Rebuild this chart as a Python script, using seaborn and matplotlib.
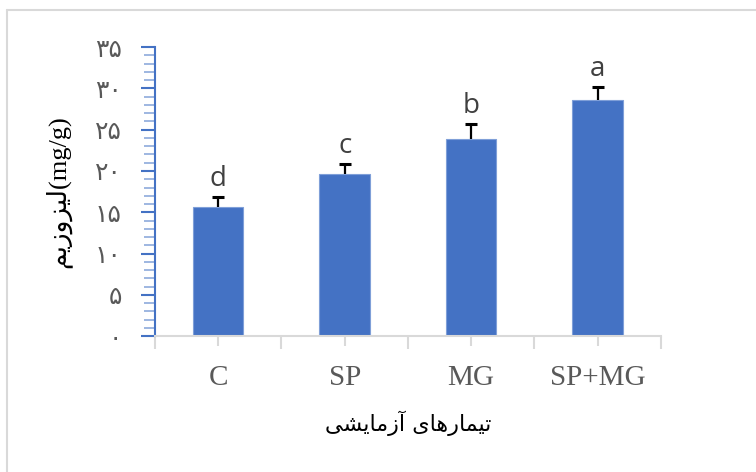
import matplotlib
matplotlib.use("Agg")
import matplotlib.pyplot as plt
import seaborn as sns
import numpy as np
from matplotlib.lines import Line2D
from matplotlib.ticker import MultipleLocator, FixedLocator

# data
treatments = ["C", "SP", "MG", "SP+MG"]
lysozyme = [15.6, 19.6, 23.9, 28.6]
errors = [1.2, 1.2, 1.8, 1.6]
letters = ["d", "c", "b", "a"]
ytick_vals = [0, 5, 10, 15, 20, 25, 30, 35]
ytick_labels = ["۰", "۵", "۱۰", "۱۵", "۲۰", "۲۵", "۳۰", "۳۵"]

# persian labels written in presentation forms, visual order (no shaping in matplotlib)
ylabel = "\uFEE2\uFEF3\uFEAF\uFEED\uFEB0\uFEF4\uFEDF(mg/g)"
xlabel = ("\uFEF0\uFEB8\uFEF3\uFE8E\uFEE3\uFEAF\uFE81 "
          "\uFEEF\uFE8E\uFEEB\uFEAD\uFE8E\uFEE4\uFEF4\uFE97")

sns.set_style("white")
plt.rcParams['font.family'] = ['Liberation Serif', 'DejaVu Sans']

blue = '#4472C4'
grey_txt = '#595959'

fig = plt.figure(figsize = (7.56, 4.72), dpi = 100)
ax = fig.add_axes([0.205, 0.288, 0.669, 0.612])

sns.barplot(x = treatments, y = lysozyme, color = blue, width = 0.4,
            edgecolor = '#7f9fd8', linewidth = 0.8, saturation = 1, ax = ax)
# upper error only
eb = ax.errorbar(range(len(treatments)), lysozyme, yerr = [np.zeros(len(errors)), errors],
                 fmt = 'none', ecolor = 'black', elinewidth = 1.6, capsize = 4, capthick = 2.2)
eb[1][0].set_visible(False)

for i, (v, e, l) in enumerate(zip(lysozyme, errors, letters)):
    ax.annotate(l, (i, v + e), xytext = (0, 8), textcoords = 'offset points',
                ha = 'center', va = 'baseline', fontsize = 20, color = '#404040',
                family = ['Open Sans'])

ax.set_xlim(-0.5, 3.5)
ax.set_ylim(0, 35)

# y axis (blue with minor ticks every unit)
ax.set_yticks(ytick_vals)
ax.set_yticklabels(ytick_labels, family = ['DejaVu Sans'])
ax.yaxis.set_minor_locator(MultipleLocator(1))
ax.tick_params(axis = 'y', which = 'major', length = 10, width = 1.5, color = blue,
               labelcolor = grey_txt, labelsize = 18, pad = 14, left = True)
ax.tick_params(axis = 'y', which = 'minor', length = 8, width = 1.2, color = '#8eaadb', left = True)

# x axis (grey, ticks at centres and category boundaries)
ax.xaxis.set_minor_locator(FixedLocator([-0.5, 0.5, 1.5, 2.5, 3.5]))
ax.tick_params(axis = 'x', which = 'major', length = 7, width = 1.5, color = '#d9d9d9',
               labelcolor = grey_txt, labelsize = 21, pad = 14, bottom = True)
ax.tick_params(axis = 'x', which = 'minor', length = 9, width = 1.5, color = '#d9d9d9', bottom = True)

for s in ['top', 'right']:
    ax.spines[s].set_visible(False)
ax.spines['left'].set_color(blue)
ax.spines['left'].set_linewidth(1.5)
ax.spines['bottom'].set_color('#d9d9d9')
ax.spines['bottom'].set_linewidth(1.5)

ax.set_xlabel(xlabel, fontsize = 16, color = 'black', labelpad = 14, family = ['DejaVu Sans'])
ax.set_ylabel(ylabel, fontsize = 19, color = 'black', labelpad = 17)

# chart-area frame visible on top and left only
fig.add_artist(Line2D([0.009, 0.009], [0, 0.978], color = '#d9d9d9', lw = 1.5))
fig.add_artist(Line2D([0.009, 1], [0.978, 0.978], color = '#d9d9d9', lw = 1.5))

fig.savefig('out.png', dpi = 100)
